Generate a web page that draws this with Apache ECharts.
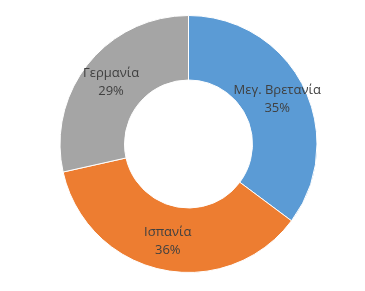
<!DOCTYPE html>
<html>
<head>
<meta charset="utf-8">
<script src="https://cdn.jsdelivr.net/npm/echarts@6/dist/echarts.min.js"></script>
<style>html,body{margin:0;padding:0;background:#fff;}#c{width:365px;height:291px;}</style>
</head>
<body>
<div id="c"></div>
<script>
var categories = ['Μεγ. Βρετανία', 'Ισπανία', 'Γερμανία'];
var values = [35.2, 36.3, 28.5];
var colors = ['#5B9BD5', '#ED7D31', '#A5A5A5'];

var chart = echarts.init(document.getElementById('c'), null, {renderer: 'canvas'});
chart.setOption({
  animation: false,
  backgroundColor: '#ffffff',
  series: [{
    type: 'pie',
    center: [188.5, 144],
    radius: [64, 128.5],
    startAngle: 90,
    clockwise: true,
    avoidLabelOverlap: false,
    itemStyle: {borderColor: '#ffffff', borderWidth: 1},
    label: {
      show: true,
      position: 'inside',
      color: '#404040',
      fontFamily: 'Open Sans',
      fontSize: 13,
      lineHeight: 18,
      formatter: function (p) { return p.name + '\n' + Math.round(p.percent) + '%'; }
    },
    labelLine: {show: false},
    emphasis: {disabled: true},
    data: categories.map(function (n, i) {
      return {name: n, value: values[i], itemStyle: {color: colors[i]}};
    })
  }]
});
</script>
</body>
</html>
